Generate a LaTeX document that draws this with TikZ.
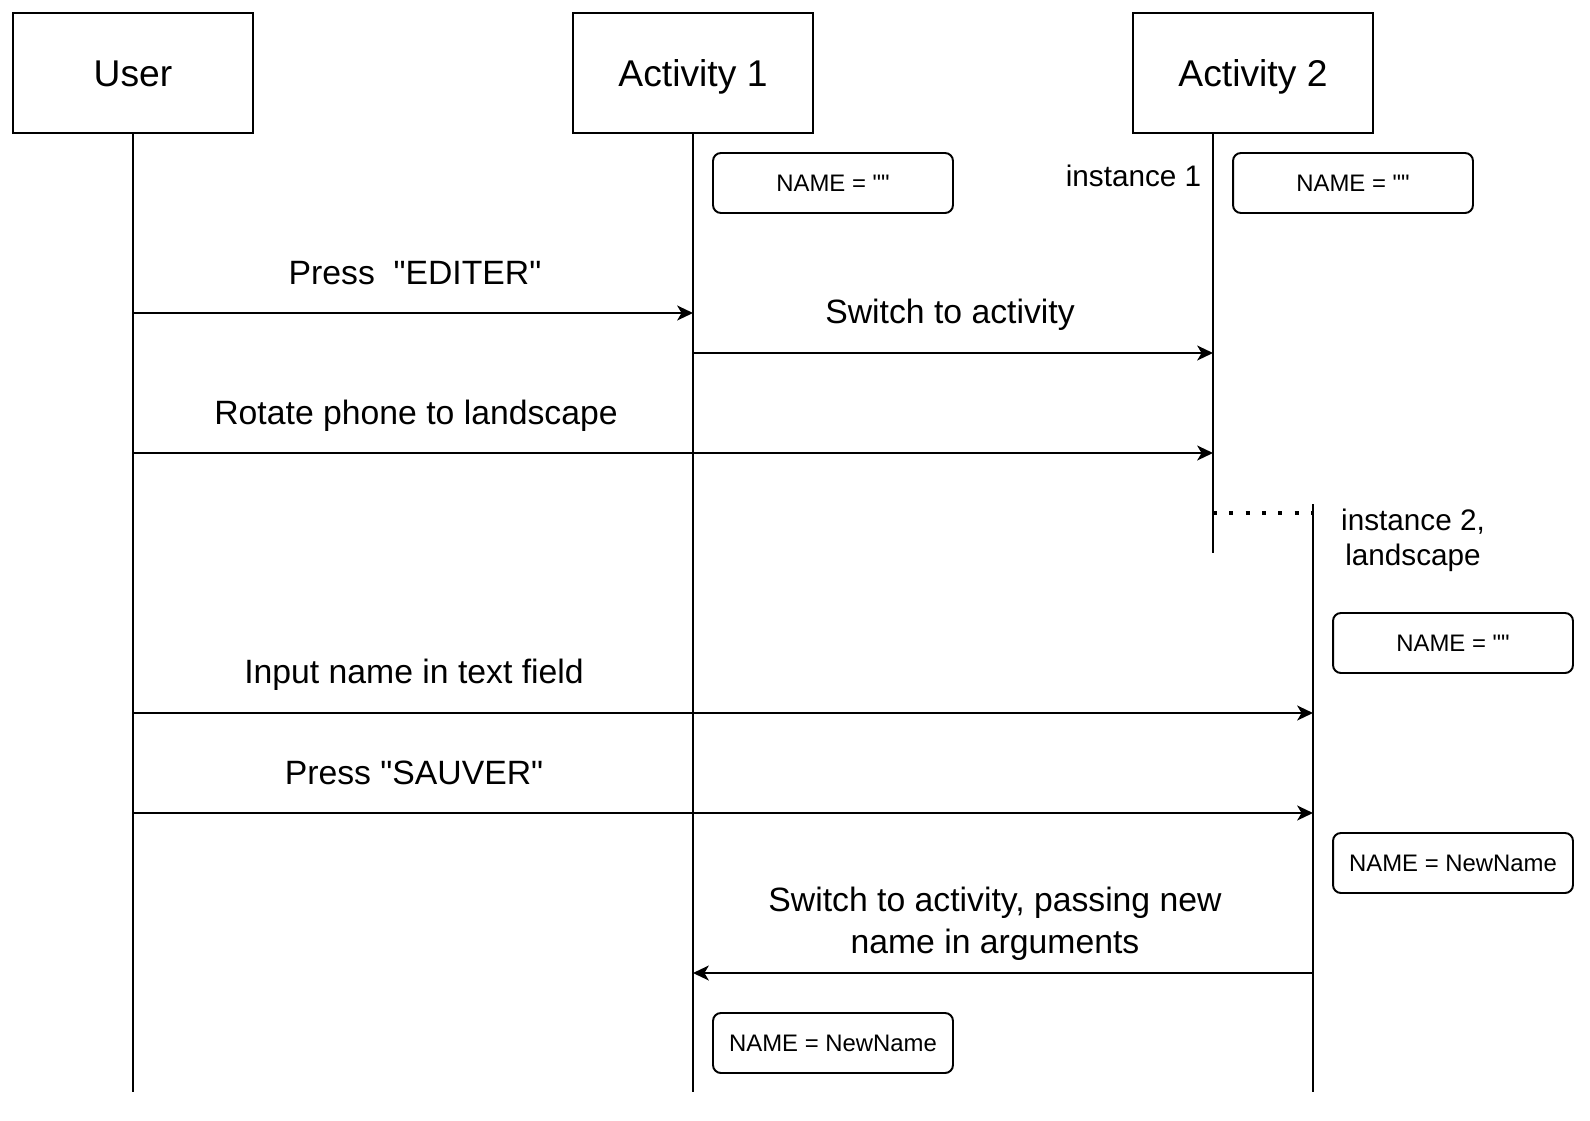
\documentclass[tikz,border=0pt]{standalone}
\usepackage{fontspec}
\setmainfont{Liberation Sans}[Ligatures=TeXOff]
\usetikzlibrary{arrows.meta, positioning}

\begin{document}
\begin{tikzpicture}[
    x=0.02cm, y=-0.02cm,
    line width=1.1pt,
    arr/.style={-{Stealth[length=9pt, width=8.5pt, inset=2.5pt]}},
    msg/.style={font=\fontsize{19.2}{23.8}\selectfont, align=center},
    header/.style={rectangle, draw, minimum width=4.8cm, minimum height=2.4cm, inner sep=0pt, font=\fontsize{21.2}{25}\selectfont, text height=15pt, text depth=0pt},
    namebox/.style={rectangle, draw, rounded corners=4.5pt, minimum width=4.8cm, minimum height=1.2cm, inner sep=0pt, font=\fontsize{13.6}{16}\selectfont, text height=9.7pt, text depth=0pt},
    inst/.style={font=\fontsize{16.9}{20}\selectfont, align=center},
]
\useasboundingbox (0,0) rectangle (1590,1120);

% Heads
\node[header] (user) at (133,73) {User};
\node[header] (act1) at (693,73) {Activity 1};
\node[header] (act2) at (1253,73) {Activity 2};

% Lifelines
\coordinate (bot) at (0,1092);
\coordinate (a2top) at ([xshift=-0.8cm]act2.south);
\coordinate (a2end) at (0,553);
\coordinate (i2top) at (1313,504);
\coordinate (dotrow) at (0,513);

\draw (user.south) -- (user.south |- bot);
\draw (act1.south) -- (act1.south |- bot);
\draw (a2top) -- (a2top |- a2end);
\draw (i2top) -- (i2top |- bot);
\draw[line width=1.8pt, dash pattern=on 2.3pt off 7pt] (a2top |- dotrow) -- (i2top |- dotrow);

\node[inst, anchor=base east] (inst1) at (1208,186) {instance 1};
\node[inst] (inst2) at (1413,540) {instance 2,\\landscape};

% State of NAME
\node[namebox] (n1) at (833,183) {NAME = ""};
\node[namebox] (n2) at (1353,183) {NAME = ""};
\node[namebox] (n3) at (1453,643) {NAME = ""};
\node[namebox] (n4) at (1453,863) {NAME = NewName};
\node[namebox] (n5) at (833,1043) {NAME = NewName};

% Messages
\coordinate (m1) at (0,313);
\coordinate (m2) at (0,353);
\coordinate (m3) at (0,453);
\coordinate (m4) at (0,713);
\coordinate (m5) at (0,813);
\coordinate (m6) at (0,973);

\draw[arr] (user.south |- m1) -- (act1.south |- m1);
\node[msg, anchor=base] (l1) at (415,284) {Press\ \ "EDITER"};

\draw[arr] (act1.south |- m2) -- (a2top |- m2);
\node[msg, anchor=base] (l2) at (950,323) {Switch to activity};

\draw[arr] (user.south |- m3) -- (a2top |- m3);
\node[msg, anchor=base] (l3) at (416,424) {Rotate phone to landscape};

\draw[arr] (user.south |- m4) -- (i2top |- m4);
\node[msg, anchor=base] (l4) at (414,683) {Input name in text field};

\draw[arr] (user.south |- m5) -- (i2top |- m5);
\node[msg, anchor=base] (l5) at (414,784) {Press "SAUVER"};

\draw[arr] (i2top |- m6) -- (act1.south |- m6);
\node[msg] (l6) at (995,924) {Switch to activity, passing new\\name in arguments};

\end{tikzpicture}
\end{document}
